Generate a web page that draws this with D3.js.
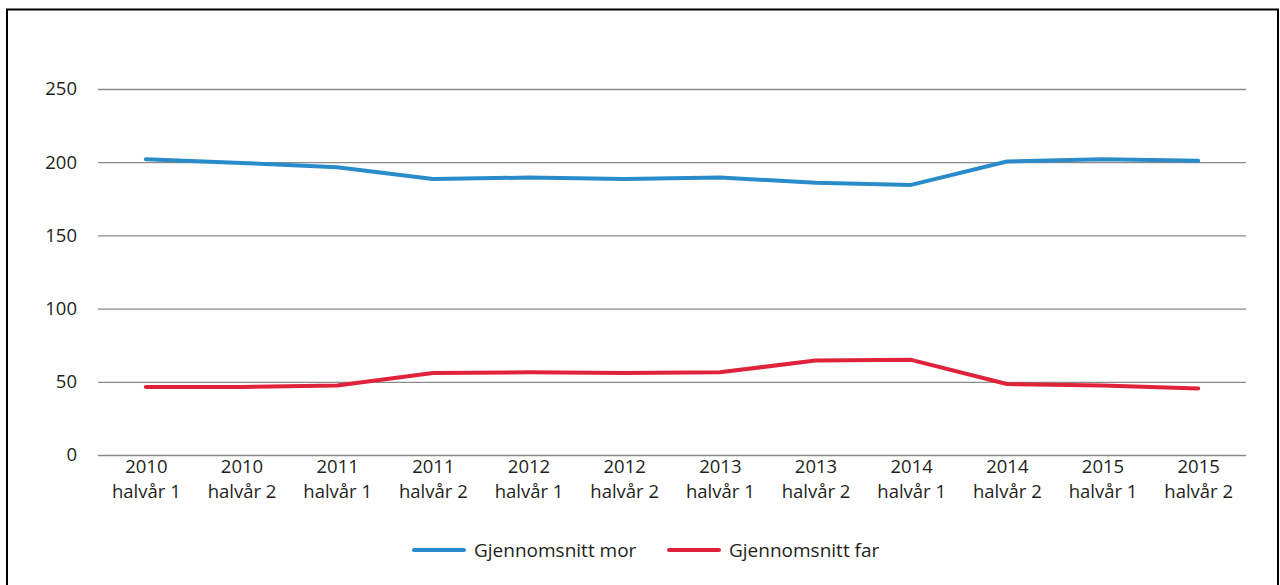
<!DOCTYPE html>
<html>
<head>
<meta charset="utf-8">
<script src="https://cdn.jsdelivr.net/npm/d3@7"></script>
<style>
  body { margin: 0; background: #fff; }
  svg text { font-family: "Open Sans", "Noto Sans", sans-serif; fill: #231f20; }
</style>
</head>
<body>
<svg width="1280" height="585"></svg>
<script>
let years = ['2010', '2010', '2011', '2011', '2012', '2012', '2013', '2013', '2014', '2014', '2015', '2015']
let halves = ['halvår 1', 'halvår 2', 'halvår 1', 'halvår 2', 'halvår 1', 'halvår 2', 'halvår 1', 'halvår 2', 'halvår 1', 'halvår 2', 'halvår 1', 'halvår 2']
let mor = [202, 199.5, 196.5, 188.5, 189.5, 188.5, 189.5, 186, 184.5, 200.5, 202, 201]
let far = [46.5, 46.5, 47.5, 56, 56.5, 56, 56.5, 64.5, 65, 48.5, 47.5, 45.5]
let yTicks = [0, 50, 100, 150, 200, 250]
let seriesNames = ['Gjennomsnitt mor', 'Gjennomsnitt far']
let seriesColors = ['#2a8bcb', '#e0233a']

let svg = d3.select('svg')

let plotLeft = 98
let plotRight = 1246
let plotTop = 89
let plotBottom = 455
let fontSize = '18.5px'

svg.append('rect')
   .attr('x', 7)
   .attr('y', 9.5)
   .attr('width', 1271)
   .attr('height', 590)
   .attr('fill', 'none')
   .attr('stroke', '#000')
   .attr('stroke-width', 2)

let keys = d3.range(years.length)

let xScale = d3.scalePoint()
               .domain(keys)
               .range([plotLeft, plotRight])
               .padding(0.5)

let yScale = d3.scaleLinear()
               .domain([0, 250])
               .range([plotBottom, plotTop])

// gridlines
let yAxis = d3.axisLeft(yScale)
              .tickValues(yTicks)
              .tickSize(-(plotRight - plotLeft))
              .tickPadding(21)

let gy = svg.append('g')
            .attr('transform', 'translate(' + plotLeft + ',0)')
            .call(yAxis)
gy.select('.domain').remove()
gy.selectAll('line').attr('stroke', '#8a8a8a').attr('stroke-width', 1.3)
gy.selectAll('text')
  .attr('font-size', fontSize)
  .attr('fill', '#231f20')
  .attr('font-family', '"Open Sans", sans-serif')

// x labels
let xAxis = d3.axisBottom(xScale).tickSize(0).tickFormat('')
let gx = svg.append('g')
            .attr('transform', 'translate(0,' + plotBottom + ')')
            .call(xAxis)
gx.select('.domain').remove()
gx.selectAll('.tick').each(function (d) {
    let t = d3.select(this).append('text')
              .attr('text-anchor', 'middle')
              .attr('font-size', fontSize)
    t.append('tspan').attr('x', 0).attr('y', 12).attr('dy', '0.32em').text(years[d])
    t.append('tspan').attr('x', 0).attr('y', 37).attr('dy', '0.32em').text(halves[d])
})

let line = d3.line()
             .x((d, i) => xScale(i))
             .y((d) => yScale(d))

;[mor, far].forEach((values, s) => {
    svg.append('path')
       .datum(values)
       .attr('d', line)
       .attr('fill', 'none')
       .attr('stroke', seriesColors[s])
       .attr('stroke-width', 4)
       .attr('stroke-linecap', 'round')
       .attr('stroke-linejoin', 'round')
})

// legend
let legendX = [414, 669]
seriesNames.forEach((name, s) => {
    let g = svg.append('g').attr('transform', 'translate(' + legendX[s] + ',550)')
    g.append('line')
     .attr('x1', 0).attr('x2', 50)
     .attr('stroke', seriesColors[s])
     .attr('stroke-width', 4)
     .attr('stroke-linecap', 'round')
    g.append('text')
     .attr('x', 60)
     .attr('dy', '0.35em')
     .attr('font-size', '19px')
     .text(name)
})
</script>
</body>
</html>
